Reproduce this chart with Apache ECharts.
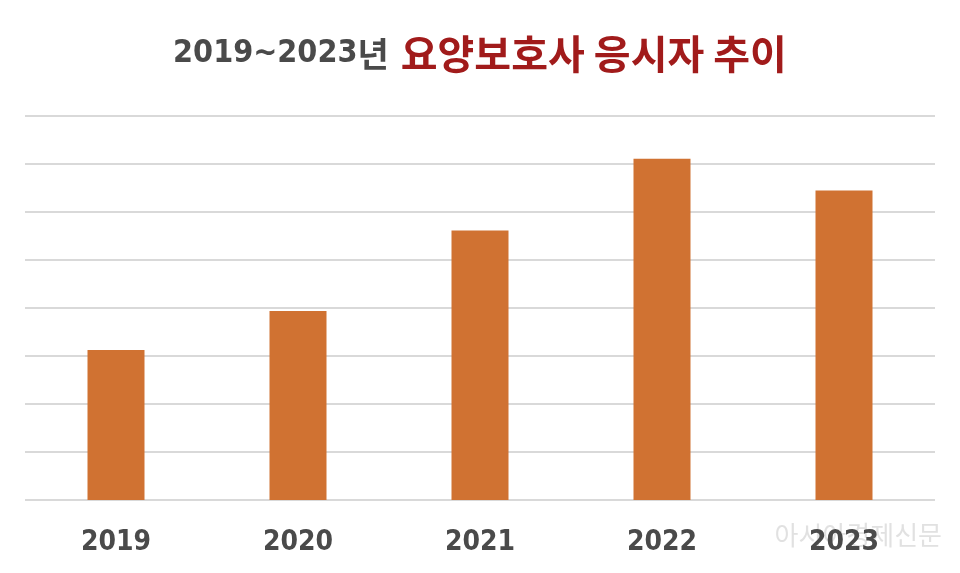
<!DOCTYPE html>
<html><head><meta charset="utf-8">
<script src="https://cdn.jsdelivr.net/npm/echarts@6/dist/echarts.min.js"></script>
<style>html,body{margin:0;padding:0;background:#fff}#c{width:960px;height:573px}</style>
</head><body><div id="c"></div>
<script>
const categories = ['2019', '2020', '2021', '2022', '2023'];
const candidates = [62500, 78800, 112300, 142200, 129000];
const titleYears = '2019~2023';
const titleYearUnit = '년';
const titleText = '요양보호사 응시자 추이';
const watermark = '아시아경제신문';

const narrow = '"DejaVu Sans Condensed", sans-serif';
const chart = echarts.init(document.getElementById('c'));
chart.setOption({
  backgroundColor: '#ffffff',
  animation: false,
  title: {
    text: '{a|' + titleYears + '}{u|' + titleYearUnit + '}{s| }{b|' + titleText + '}',
    left: 'center',
    top: 25,
    textStyle: {
      rich: {
        a: { fontFamily: narrow, fontWeight: 'bold', fontSize: 32, color: '#4a4a4a', lineHeight: 48, verticalAlign: 'middle' },
        u: { fontFamily: 'Noto Sans CJK KR', fontWeight: 'bold', fontSize: 34, color: '#4a4a4a', lineHeight: 48, verticalAlign: 'middle' },
        s: { fontSize: 20, width: 12, lineHeight: 48 },
        b: { fontFamily: 'Noto Sans CJK KR', fontWeight: 'bold', fontSize: 40, color: '#a11b1b', lineHeight: 48, verticalAlign: 'middle' }
      }
    }
  },
  grid: { left: 25, right: 25, top: 116, bottom: 73, containLabel: false },
  xAxis: {
    type: 'category',
    data: categories,
    axisLine: { show: false },
    axisTick: { show: false },
    axisLabel: {
      margin: 29,
      fontFamily: narrow,
      fontWeight: 'bold',
      fontSize: 28,
      color: '#4a4a4a'
    }
  },
  yAxis: {
    type: 'value',
    min: 0, max: 160000, interval: 20000,
    axisLabel: { show: false },
    axisLine: { show: false },
    axisTick: { show: false },
    splitLine: { lineStyle: { color: '#d9d9d9', width: 2 } }
  },
  series: [{
    type: 'bar',
    data: candidates,
    barWidth: 57,
    itemStyle: { color: '#d07232' }
  }],
  graphic: [{
    type: 'text',
    right: 18,
    top: 522,
    style: { text: watermark, fontFamily: 'Noto Sans CJK KR', fontSize: 26, fill: 'rgba(170,170,170,0.35)' }
  }]
});
</script></body></html>
